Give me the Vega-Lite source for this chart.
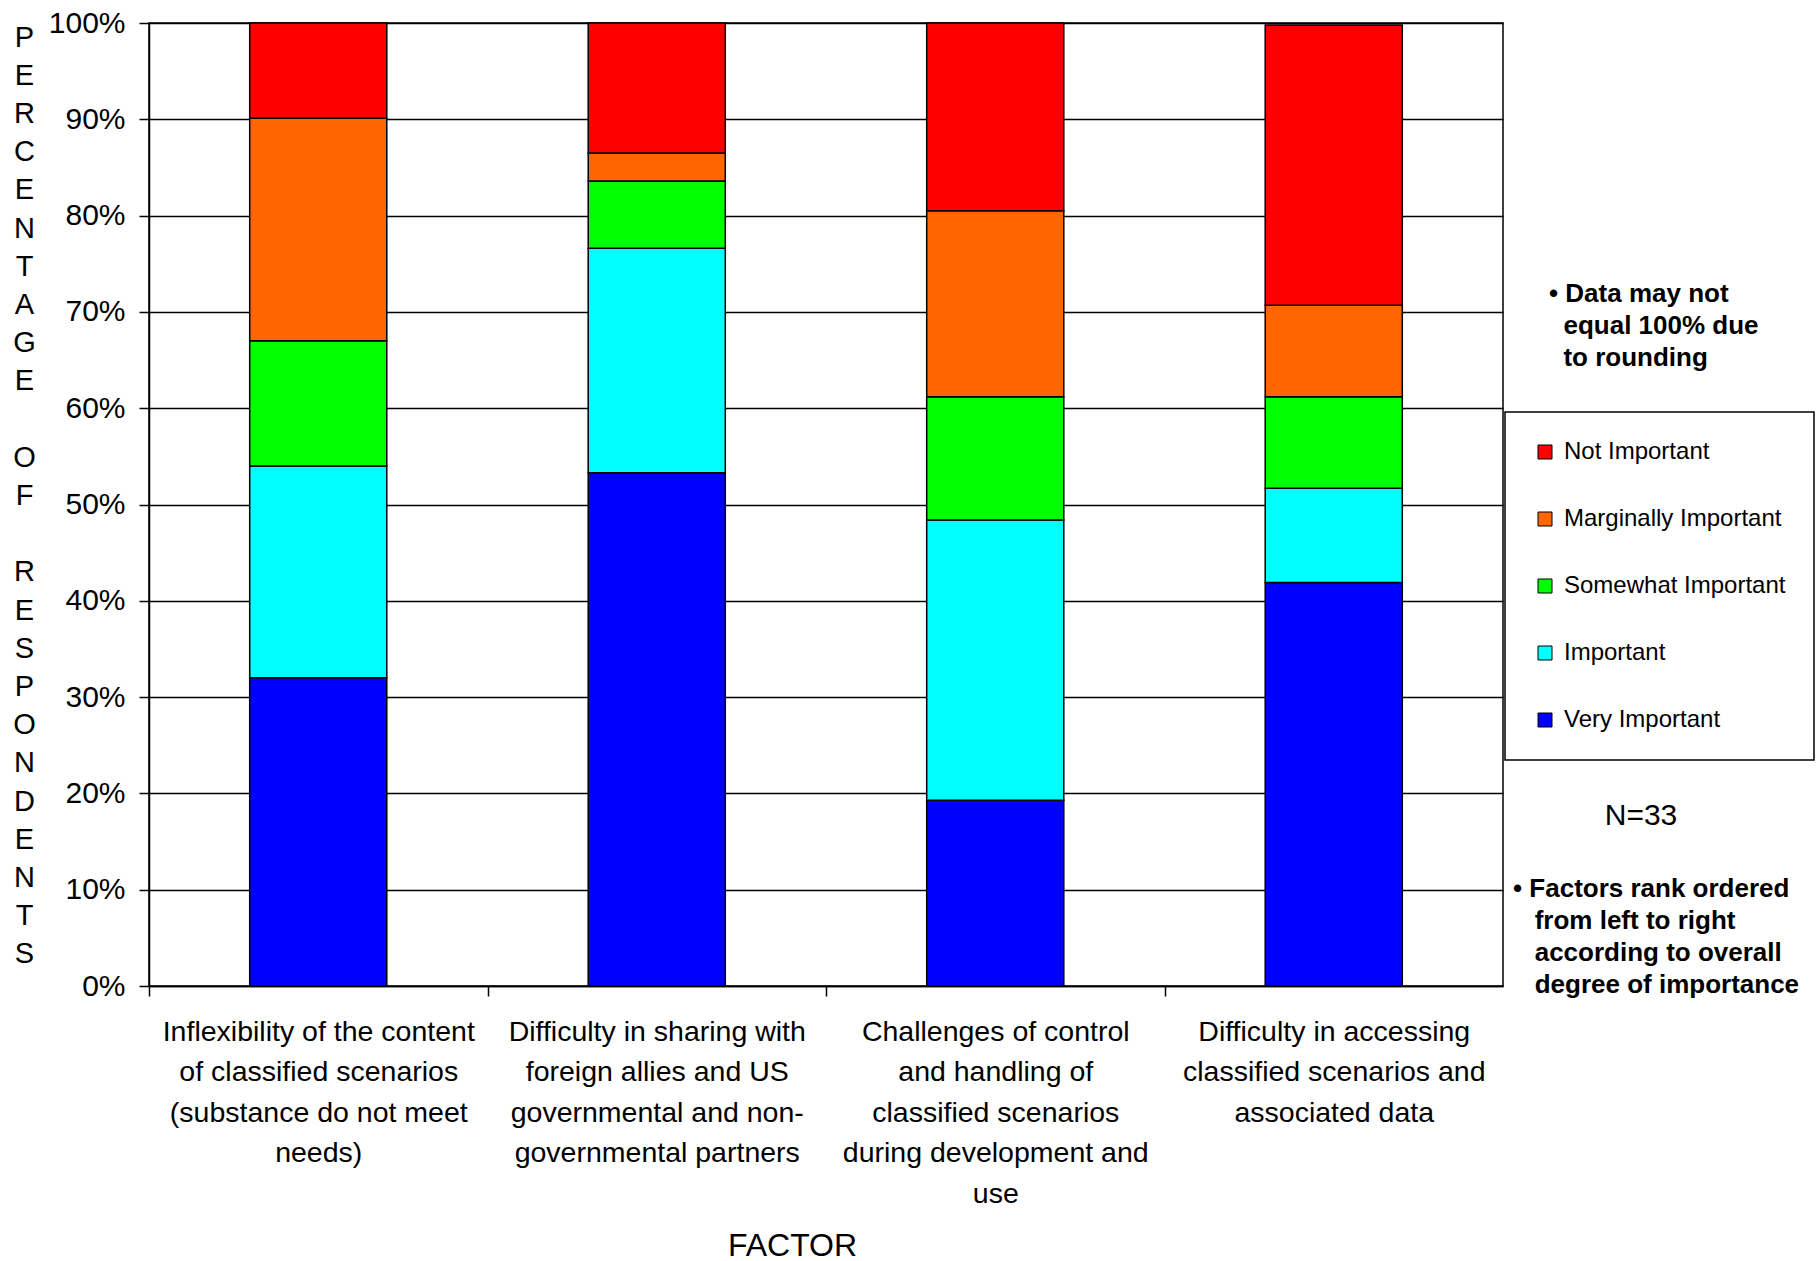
{
  "$schema": "https://vega.github.io/schema/vega-lite/v6.json",
  "width": 1354,
  "height": 963,
  "autosize": {"type": "none"},
  "padding": {"left": 149, "top": 23, "right": 313, "bottom": 275},
  "background": "white",
  "config": {
    "font": "Liberation Sans",
    "view": {"stroke": "black", "strokeWidth": 1.5},
    "axis": {"domainColor": "black", "tickColor": "black", "labelColor": "black", "titleColor": "black", "labelFont": "Liberation Sans", "titleFont": "Liberation Sans"},
    "legend": {"labelFont": "Liberation Sans", "labelColor": "black"}
  },
  "datasets": {
    "bars": [
      {"factor": "Inflexibility of the content|of classified scenarios|(substance do not meet|needs)", "rating": "Very Important", "rank": 1, "pct": 32.0},
      {"factor": "Inflexibility of the content|of classified scenarios|(substance do not meet|needs)", "rating": "Important", "rank": 2, "pct": 22.0},
      {"factor": "Inflexibility of the content|of classified scenarios|(substance do not meet|needs)", "rating": "Somewhat Important", "rank": 3, "pct": 13.0},
      {"factor": "Inflexibility of the content|of classified scenarios|(substance do not meet|needs)", "rating": "Marginally Important", "rank": 4, "pct": 23.1},
      {"factor": "Inflexibility of the content|of classified scenarios|(substance do not meet|needs)", "rating": "Not Important", "rank": 5, "pct": 9.9},
      {"factor": "Difficulty in sharing with|foreign allies and US|governmental and non-|governmental partners", "rating": "Very Important", "rank": 1, "pct": 53.3},
      {"factor": "Difficulty in sharing with|foreign allies and US|governmental and non-|governmental partners", "rating": "Important", "rank": 2, "pct": 23.3},
      {"factor": "Difficulty in sharing with|foreign allies and US|governmental and non-|governmental partners", "rating": "Somewhat Important", "rank": 3, "pct": 7.0},
      {"factor": "Difficulty in sharing with|foreign allies and US|governmental and non-|governmental partners", "rating": "Marginally Important", "rank": 4, "pct": 2.9},
      {"factor": "Difficulty in sharing with|foreign allies and US|governmental and non-|governmental partners", "rating": "Not Important", "rank": 5, "pct": 13.5},
      {"factor": "Challenges of control|and handling of|classified scenarios|during development and|use", "rating": "Very Important", "rank": 1, "pct": 19.3},
      {"factor": "Challenges of control|and handling of|classified scenarios|during development and|use", "rating": "Important", "rank": 2, "pct": 29.1},
      {"factor": "Challenges of control|and handling of|classified scenarios|during development and|use", "rating": "Somewhat Important", "rank": 3, "pct": 12.8},
      {"factor": "Challenges of control|and handling of|classified scenarios|during development and|use", "rating": "Marginally Important", "rank": 4, "pct": 19.3},
      {"factor": "Challenges of control|and handling of|classified scenarios|during development and|use", "rating": "Not Important", "rank": 5, "pct": 19.5},
      {"factor": "Difficulty in accessing|classified scenarios and|associated data", "rating": "Very Important", "rank": 1, "pct": 41.9},
      {"factor": "Difficulty in accessing|classified scenarios and|associated data", "rating": "Important", "rank": 2, "pct": 9.8},
      {"factor": "Difficulty in accessing|classified scenarios and|associated data", "rating": "Somewhat Important", "rank": 3, "pct": 9.5},
      {"factor": "Difficulty in accessing|classified scenarios and|associated data", "rating": "Marginally Important", "rank": 4, "pct": 9.5},
      {"factor": "Difficulty in accessing|classified scenarios and|associated data", "rating": "Not Important", "rank": 5, "pct": 29.1}
    ],
    "notes": [
      {"id": "rounding", "note": "• Data may not\n\u200b\u00a0\u00a0equal 100% due\n\u200b\u00a0\u00a0to rounding"},
      {"id": "n", "note": "N=33"},
      {"id": "rank", "note": "• Factors rank ordered\n\u200b\u00a0\u00a0\u00a0from left to right\n\u200b\u00a0\u00a0\u00a0according to overall\n\u200b\u00a0\u00a0\u00a0degree of importance"}
    ]
  },
  "layer": [
    {
      "data": {"name": "bars"},
      "mark": {"type": "bar", "stroke": "black", "strokeWidth": 1.5},
      "encoding": {
        "x": {
          "field": "factor", "type": "nominal", "sort": null,
          "scale": {"paddingInner": 0.595, "paddingOuter": 0.2975},
          "axis": {
            "title": "FACTOR",
            "labelExpr": "split(datum.label, '|')",
            "labelFontSize": 28.5,
            "labelLineHeight": 40.5,
            "labelAngle": 0,
            "labelLimit": 1000,
            "labelOverlap": false,
            "labelBaseline": "top",
            "labelPadding": 21,
            "labelOffset": 169.25,
            "tickBand": "center",
            "tickOffset": -169.25,
            "tickSize": 10,
            "tickWidth": 1.5,
            "domainWidth": 1.5,
            "titleFontSize": 32,
            "titleFontWeight": "normal",
            "titleX": 643,
            "titleY": 269,
            "titleAlign": "center",
            "titleBaseline": "alphabetic"
          }
        },
        "y": {
          "field": "pct", "type": "quantitative", "stack": "zero",
          "scale": {"domain": [0, 100], "nice": false},
          "axis": {
            "title": ["P","E","R","C","E","N","T","A","G","E","\u200b","O","F","\u200b","R","E","S","P","O","N","D","E","N","T","S"],
            "values": [0, 10, 20, 30, 40, 50, 60, 70, 80, 90, 100],
            "labelExpr": "datum.value + '%'",
            "labelFontSize": 30,
            "labelPadding": 14,
            "tickSize": 10,
            "tickWidth": 1.5,
            "domainWidth": 1.5,
            "grid": true,
            "gridColor": "black",
            "gridWidth": 1.6,
            "gridOpacity": 1,
            "titleAngle": 0,
            "titleAlign": "center",
            "titleBaseline": "top",
            "titleX": -125,
            "titleY": 0,
            "titleFontSize": 29,
            "titleFontWeight": "normal",
            "titleLineHeight": 38.2
          }
        },
        "color": {
          "field": "rating", "type": "nominal",
          "scale": {
            "domain": ["Not Important", "Marginally Important", "Somewhat Important", "Important", "Very Important"],
            "range": ["#FF0000", "#FF6600", "#00FF00", "#00FFFF", "#0000FF"]
          },
          "legend": {
            "title": null,
            "orient": "none",
            "legendX": 1356,
            "legendY": 389,
            "strokeColor": "black",
            "fillColor": "white",
            "padding": 28,
            "symbolType": "square",
            "symbolSize": 196,
            "symbolStrokeColor": "black",
            "symbolStrokeWidth": 1,
            "symbolOpacity": 1,
            "labelFontSize": 24,
            "labelOffset": 7,
            "rowPadding": 43,
            "labelLimit": 600,
            "labelExpr": "datum.label + '\u00a0\u00a0\u00a0\u00a0\u00a0\u00a0\u00a0\u00a0\u00a0\u00a0'",
            "encode": {"legend": {"update": {"strokeWidth": {"value": 1.5}}}}
          }
        },
        "order": {"field": "rank", "type": "quantitative"}
      }
    },
    {
      "data": {"name": "notes"},
      "transform": [{"filter": "datum.id === 'rounding'"}],
      "mark": {"type": "text", "align": "left", "baseline": "top", "lineBreak": "\n", "lineHeight": 32, "fontSize": 26, "fontWeight": "bold", "font": "Liberation Sans", "color": "black"},
      "encoding": {
        "x": {"value": 1400},
        "y": {"datum": 73.25, "type": "quantitative"},
        "text": {"field": "note"}
      }
    },
    {
      "data": {"name": "notes"},
      "transform": [{"filter": "datum.id === 'n'"}],
      "mark": {"type": "text", "align": "center", "baseline": "middle", "fontSize": 30, "font": "Liberation Sans", "color": "black"},
      "encoding": {
        "x": {"value": 1492},
        "y": {"datum": 17.7, "type": "quantitative"},
        "text": {"field": "note"}
      }
    },
    {
      "data": {"name": "notes"},
      "transform": [{"filter": "datum.id === 'rank'"}],
      "mark": {"type": "text", "align": "left", "baseline": "top", "lineBreak": "\n", "lineHeight": 32, "fontSize": 26, "fontWeight": "bold", "font": "Liberation Sans", "color": "black"},
      "encoding": {
        "x": {"value": 1364},
        "y": {"datum": 11.4, "type": "quantitative"},
        "text": {"field": "note"}
      }
    }
  ]
}
